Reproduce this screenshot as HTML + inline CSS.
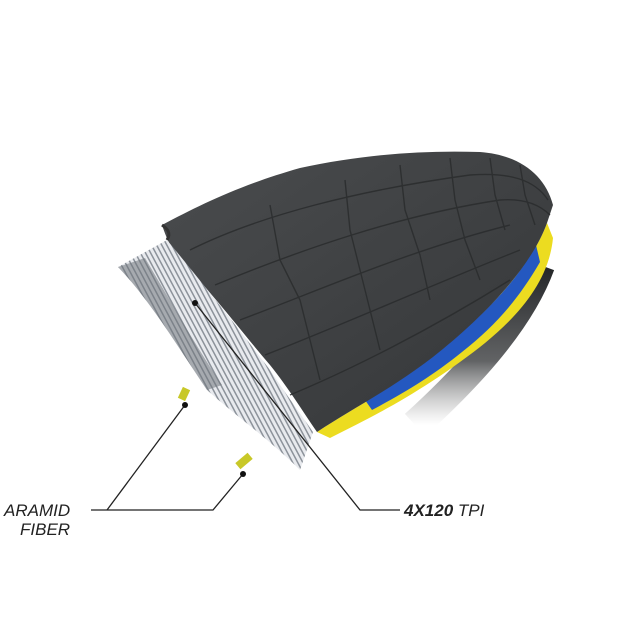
<!DOCTYPE html>
<html><head><style>
html,body{margin:0;padding:0;background:#fff;width:625px;height:625px;overflow:hidden}
svg{display:block}
text{font-family:"Liberation Sans",sans-serif;font-style:italic;fill:#222}
</style></head><body>
<svg width="625" height="625" viewBox="0 0 625 625">
<defs>
<pattern id="st" width="4.5" height="4.5" patternUnits="userSpaceOnUse" patternTransform="rotate(-28)">
<rect width="4.5" height="4.5" fill="#e8eaee"/><rect width="1.5" height="4.5" fill="#8c929a"/>
</pattern>
<linearGradient id="tg" x1="0" y1="0" x2="1" y2="1">
<stop offset="0" stop-color="#4a4c4e"/><stop offset="1" stop-color="#343638"/>
</linearGradient>
<linearGradient id="fade" x1="0" y1="0" x2="0" y2="1">
<stop offset="0" stop-color="#222426"/><stop offset="0.6" stop-color="#3a3c3e" stop-opacity="0.8"/><stop offset="1" stop-color="#888" stop-opacity="0"/>
</linearGradient>
</defs>
<path d="M540,265 C520,320 470,375 415,425" stroke="url(#fade)" stroke-width="30" fill="none"/>
<path d="M547,223 C530,270 480,320 433,357 C390,390 350,410 317,432 L330,438 C370,418 410,398 460,362 C505,330 548,290 553,238 Z" fill="#ecdc20"/>
<path d="M536,245 C515,285 480,318 440,350 C410,374 385,388 365,400 L372,410 C400,395 430,378 462,352 C495,326 518,300 540,262 Z" fill="#2458c0"/>
<path d="M162,225 C200,205 240,185 300,168 C360,155 420,150 480,152 C520,155 545,175 553,205 L547,223 C530,270 480,320 433,357 C390,390 350,410 317,432 C305,415 290,390 270,365 C240,330 210,290 180,260 C172,250 167,240 162,225 Z" fill="url(#tg)"/>
<g stroke="#2a2c2d" stroke-width="1.4" fill="none" opacity="0.85">
<path d="M190,250 C260,215 360,190 470,175 C510,172 535,180 548,200"/>
<path d="M215,285 C300,250 400,215 500,200 C525,198 540,205 550,215"/>
<path d="M240,320 C320,290 410,250 510,225"/>
<path d="M265,355 C330,330 420,290 520,250"/>
<path d="M290,395 C350,370 430,330 510,280"/>
<path d="M270,205 L280,260 L300,300 L310,340 L320,380"/>
<path d="M345,180 L350,230 L360,270 L370,310 L380,350"/>
<path d="M400,165 L405,210 L420,255 L430,300"/>
<path d="M450,158 L455,200 L465,240 L480,280"/>
<path d="M490,158 L495,195 L505,230"/>
<path d="M520,165 L525,195 L535,225"/>
</g>
<path d="M118,267 L167,240 C200,280 240,330 270,370 C290,400 305,420 313,432 L300,470 C270,440 235,415 207,390 C180,350 150,300 118,267 Z" fill="url(#st)"/>
<path d="M118,267 L145,258 C170,300 195,345 222,385 L207,390 C180,350 150,300 118,267 Z" fill="#6f757c" opacity="0.55"/>
<path d="M167,240 C172,232 166,228 162,225" stroke="#333" stroke-width="3" fill="none"/>
<rect x="180" y="388" width="8" height="12" fill="#c8c828" transform="rotate(25 184 394)"/>
<rect x="240" y="453" width="8" height="16" fill="#c8c828" transform="rotate(50 244 461)"/>
<g stroke="#222" stroke-width="1.3" fill="none">
<path d="M185,405 L107,510"/>
<path d="M91,510 L213,510 L243,474"/>
<path d="M195,303 L360,510 L400,510"/>
</g>
<circle cx="185" cy="405" r="3" fill="#111"/>
<circle cx="243" cy="474" r="3" fill="#111"/>
<circle cx="195" cy="303" r="3" fill="#111"/>
<text x="4" y="516" font-size="17">ARAMID</text>
<text x="20" y="535" font-size="17">FIBER</text>
<text x="404" y="516" font-size="17"><tspan font-weight="bold">4X120</tspan> TPI</text>
</svg>
</body></html>
